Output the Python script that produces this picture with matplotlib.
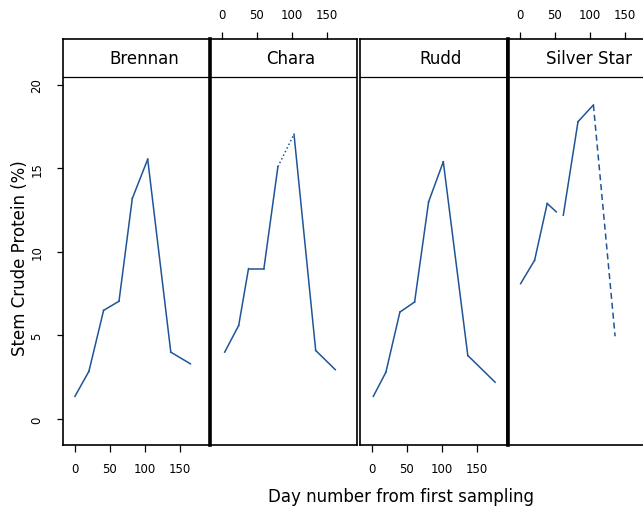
import numpy as np
import matplotlib
matplotlib.use('Agg')
import matplotlib.pyplot as plt

# data (day, stem crude protein %)
cultivars = ['Brennan', 'Chara', 'Rudd', 'Silver Star']

brennan_day = [0, 20, 41, 63, 82, 104, 137, 165]
brennan_cp = [1.35, 2.85, 6.5, 7.05, 13.2, 15.55, 4.0, 3.3]

chara_day = [4, 24, 38, 60, 80, 103, 134, 162]
chara_cp = [4.0, 5.6, 9.0, 9.0, 15.1, 17.05, 4.1, 2.95]

rudd_day = [2, 20, 40, 61, 81, 102, 137, 176]
rudd_cp = [1.35, 2.8, 6.4, 7.0, 13.0, 15.4, 3.8, 2.2]

silver_day = [1, 21, 39, 52, 62, 83, 105, 136]
silver_cp = [8.1, 9.5, 12.9, 12.4, 12.2, 17.8, 18.8, 4.95]

x_ticks = [0, 50, 100, 150]
y_ticks = [0, 5, 10, 15, 20]

days = [brennan_day, chara_day, rudd_day, silver_day]
values = [brennan_cp, chara_cp, rudd_cp, silver_cp]

# segments that look broken in the original (index of segment -> linestyle)
seg_styles = {'Chara': {4: ':'},
              'Silver Star': {3: None, 6: (0, (4, 2.5))}}

line_col = '#1f5596'
W, H = 643, 510
fig = plt.figure(figsize=(W / 100, H / 100), dpi=100)

ylo, yhi = -1.56, 22.75
strip_y = 20.48
xlo, xhi = -17, 193

lefts = [63, 210, 360, 508]
pw = 147
bottom = (H - 446) / H
height = (446 - 40) / H

for k, name in enumerate(cultivars):
    ax = fig.add_axes([lefts[k] / W, bottom, pw / W, height])
    d = days[k]
    v = values[k]
    st = seg_styles.get(name, {})
    for i in range(len(d) - 1):
        ls = st.get(i, '-')
        if ls is None:
            continue
        ax.plot(d[i:i + 2], v[i:i + 2], color=line_col, lw=1.1, ls=ls)

    ax.set_xlim(xlo, xhi)
    ax.set_ylim(ylo, yhi)
    ax.axhline(strip_y, color='black', lw=0.9)
    ax.text(0.55, (strip_y + yhi) / 2, name, fontsize=12,
            transform=ax.get_yaxis_transform(), ha='center', va='center')

    for sp in ax.spines.values():
        sp.set_linewidth(1.2)
    if k % 2 == 1:
        # panels sharing a border: the line looks heavier there
        ax.spines['left'].set_linewidth(2.6)

    ax.set_xticks(x_ticks)
    if k % 2 == 0:
        ax.tick_params(axis='x', bottom=True, top=False, labelbottom=True,
                       labeltop=False, length=5, width=0.9, pad=7, labelsize=8.5)
    else:
        ax.tick_params(axis='x', bottom=False, top=True, labelbottom=False,
                       labeltop=True, length=5, width=0.9, pad=8, labelsize=8.5)

    if k == 0:
        ax.set_yticks(y_ticks)
        ax.tick_params(axis='y', left=True, length=4, width=0.9, pad=10,
                       labelsize=8.5, labelrotation=90)
        for lab in ax.get_yticklabels():
            lab.set_va('center')
    else:
        ax.set_yticks([])

fig.text(20 / W, 1 - 258 / H, 'Stem Crude Protein (%)', rotation=90,
         ha='center', va='center', fontsize=12)
fig.text(401 / W, 1 - 497 / H, 'Day number from first sampling',
         ha='center', va='center', fontsize=12)

fig.savefig('out.png', dpi=100)
